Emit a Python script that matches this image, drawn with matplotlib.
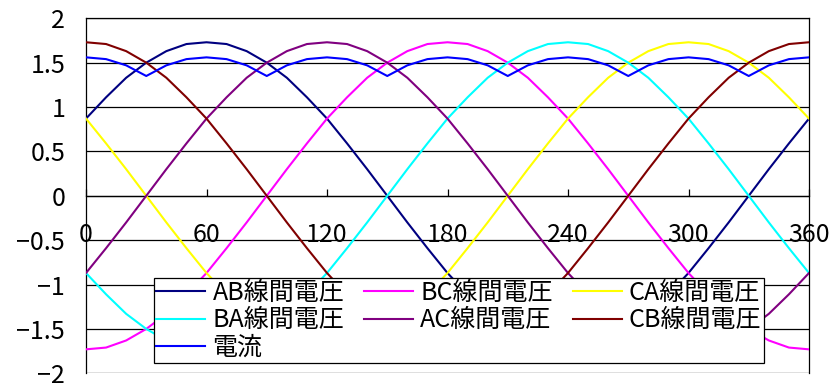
import numpy as np
import matplotlib
matplotlib.use("Agg")
import matplotlib.pyplot as plt
from matplotlib.ticker import FixedLocator, FuncFormatter

plt.rcParams["font.family"] = ["Noto Sans CJK JP", "DejaVu Sans"]

# 位相角 [deg]（10度刻み）
theta = np.arange(0, 361, 10)

# 線間電圧（p.u.）
ab = [0.87, 1.11, 1.33, 1.50, 1.63, 1.71, 1.73, 1.71, 1.63, 1.50, 1.33, 1.11, 0.87,
      0.59, 0.30, 0.00, -0.30, -0.59, -0.87, -1.11, -1.33, -1.50, -1.63, -1.71, -1.73,
      -1.71, -1.63, -1.50, -1.33, -1.11, -0.87, -0.59, -0.30, 0.00, 0.30, 0.59, 0.87]
bc = [-1.73, -1.71, -1.63, -1.50, -1.33, -1.11, -0.87, -0.59, -0.30, 0.00, 0.30, 0.59, 0.87,
      1.11, 1.33, 1.50, 1.63, 1.71, 1.73, 1.71, 1.63, 1.50, 1.33, 1.11, 0.87,
      0.59, 0.30, 0.00, -0.30, -0.59, -0.87, -1.11, -1.33, -1.50, -1.63, -1.71, -1.73]
ca = [0.87, 0.59, 0.30, 0.00, -0.30, -0.59, -0.87, -1.11, -1.33, -1.50, -1.63, -1.71, -1.73,
      -1.71, -1.63, -1.50, -1.33, -1.11, -0.87, -0.59, -0.30, 0.00, 0.30, 0.59, 0.87,
      1.11, 1.33, 1.50, 1.63, 1.71, 1.73, 1.71, 1.63, 1.50, 1.33, 1.11, 0.87]
ba = [-0.87, -1.11, -1.33, -1.50, -1.63, -1.71, -1.73, -1.71, -1.63, -1.50, -1.33, -1.11, -0.87,
      -0.59, -0.30, 0.00, 0.30, 0.59, 0.87, 1.11, 1.33, 1.50, 1.63, 1.71, 1.73,
      1.71, 1.63, 1.50, 1.33, 1.11, 0.87, 0.59, 0.30, 0.00, -0.30, -0.59, -0.87]
ac = [-0.87, -0.59, -0.30, 0.00, 0.30, 0.59, 0.87, 1.11, 1.33, 1.50, 1.63, 1.71, 1.73,
      1.71, 1.63, 1.50, 1.33, 1.11, 0.87, 0.59, 0.30, 0.00, -0.30, -0.59, -0.87,
      -1.11, -1.33, -1.50, -1.63, -1.71, -1.73, -1.71, -1.63, -1.50, -1.33, -1.11, -0.87]
cb = [1.73, 1.71, 1.63, 1.50, 1.33, 1.11, 0.87, 0.59, 0.30, 0.00, -0.30, -0.59, -0.87,
      -1.11, -1.33, -1.50, -1.63, -1.71, -1.73, -1.71, -1.63, -1.50, -1.33, -1.11, -0.87,
      -0.59, -0.30, 0.00, 0.30, 0.59, 0.87, 1.11, 1.33, 1.50, 1.63, 1.71, 1.73]

# 電流（整流後）
current = [1.56, 1.54, 1.47, 1.35, 1.47, 1.54, 1.56, 1.54, 1.47, 1.35, 1.47, 1.54, 1.56,
           1.54, 1.47, 1.35, 1.47, 1.54, 1.56, 1.54, 1.47, 1.35, 1.47, 1.54, 1.56,
           1.54, 1.47, 1.35, 1.47, 1.54, 1.56, 1.54, 1.47, 1.35, 1.47, 1.54, 1.56]

x_ticks = [0, 60, 120, 180, 240, 300, 360]
y_ticks = [-2, -1.5, -1, -0.5, 0, 0.5, 1, 1.5, 2]

series = [
    ("AB線間電圧", ab, "#000080"),
    ("BC線間電圧", bc, "#FF00FF"),
    ("CA線間電圧", ca, "#FFFF00"),
    ("BA線間電圧", ba, "#00FFFF"),
    ("AC線間電圧", ac, "#800080"),
    ("CB線間電圧", cb, "#800000"),
    ("電流", current, "#0000FF"),
]

fig = plt.figure(figsize=(8.3, 3.85), dpi=100)
ax = fig.add_axes([86 / 830, 1 - 373.3 / 385, 723 / 830, 355 / 385])

handles = {}
for name, vals, col in series:
    h, = ax.plot(theta, vals, color=col, lw=1.5, zorder=3)
    handles[name] = h

ax.set_xlim(0, 360)
ax.set_ylim(-2, 2)

# 目盛線
for y in y_ticks:
    ax.axhline(y, color="black", lw=0.9, zorder=1)

ax.spines["bottom"].set_position(("data", 0))
for s in ax.spines.values():
    s.set_linewidth(0.9)
    s.set_color("black")

ax.xaxis.set_major_locator(FixedLocator(x_ticks))
ax.yaxis.set_major_locator(FixedLocator(y_ticks))
ax.yaxis.set_major_formatter(
    FuncFormatter(lambda v, p: f"{v:g}".replace("-", "\u2212")))
ax.tick_params(axis="x", direction="in", length=5, width=0.9,
               pad=19, labelsize=18)
ax.tick_params(axis="y", length=0, pad=15, labelsize=18)

# 凡例（行方向の並びにするため列ごとに並べ替え）
order = ["AB線間電圧", "BA線間電圧", "電流",
         "BC線間電圧", "AC線間電圧",
         "CA線間電圧", "CB線間電圧"]
leg = ax.legend([handles[k] for k in order], order, ncol=3,
                loc="lower left", bbox_to_anchor=(0.094, 0.029),
                borderaxespad=0, fontsize=18, frameon=True, fancybox=False,
                framealpha=1, edgecolor="black", handlelength=1.96,
                handletextpad=0.28, columnspacing=0.8, labelspacing=0.05,
                borderpad=0.1)
leg.get_frame().set_linewidth(0.9)
leg.set_zorder(5)

fig.savefig("out.png", dpi=100)
